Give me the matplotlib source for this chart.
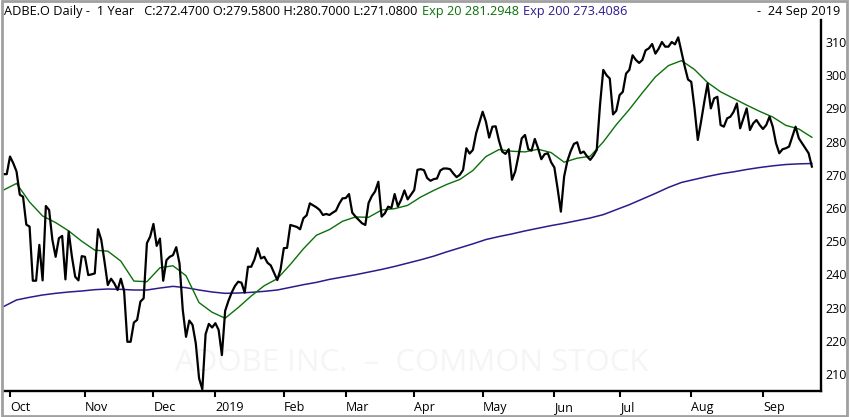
import numpy as np
import pandas as pd
import matplotlib
matplotlib.use('Agg')
import matplotlib.pyplot as plt
from matplotlib.patches import Rectangle

plt.rcParams['font.family'] = ['Open Sans', 'DejaVu Sans']

# trading days shown, 27 Sep 2018 .. 24 Sep 2019
holidays = ['2018-11-22', '2018-12-05', '2018-12-25', '2019-01-01', '2019-01-21',
            '2019-02-18', '2019-04-19', '2019-05-27', '2019-07-04', '2019-09-02']
dates = pd.bdate_range('2018-09-27', '2019-09-24', freq='C', holidays=holidays)

# daily close
close = [
    270.2, 270.2, 275.5, 273.5, 271.0, 264.0, 263.4, 255.0, 254.4, 238.1,
    238.1, 248.9, 238.2, 260.6, 259.4, 250.4, 245.3, 250.9, 251.6, 238.5,
    252.9, 245.3, 239.3, 238.2, 245.5, 245.3, 239.8, 240.0, 240.3, 253.6,
    250.4, 243.8, 236.8, 238.7, 237.3, 235.3, 238.7, 235.0, 219.7, 219.7,
    225.5, 226.3, 231.8, 232.8, 249.4, 251.4, 255.2, 248.6, 250.8, 238.1,
    244.3, 245.3, 245.8, 248.2, 243.3, 229.3, 221.2, 226.1, 224.8, 219.2,
    208.7, 205.4, 222.0, 225.1, 224.0, 225.3, 223.3, 215.7, 229.0, 232.0,
    234.5, 236.5, 237.8, 237.5, 234.5, 242.3, 242.3, 244.5, 247.9, 244.8,
    245.3, 243.5, 242.7, 240.5, 238.3, 241.5, 247.9, 248.0, 254.9, 254.6,
    254.3, 253.6, 256.9, 257.8, 261.4, 260.8, 260.2, 259.4, 257.9, 258.2,
    257.9, 258.6, 259.2, 261.3, 262.9, 263.0, 264.2, 258.6, 257.4, 256.4,
    255.4, 254.9, 261.5, 263.6, 265.0, 267.9, 257.4, 258.4, 260.4, 260.0,
    264.2, 260.5, 262.5, 265.3, 262.6, 264.0, 265.4, 271.5, 271.7, 271.4,
    269.0, 268.2, 268.7, 268.9, 271.3, 271.9, 271.9, 271.7, 270.4, 269.3,
    270.0, 271.5, 278.0, 276.4, 277.5, 282.5, 285.8, 289.0, 286.0, 281.2,
    284.5, 284.6, 280.3, 277.0, 276.3, 277.7, 268.5, 271.0, 275.8, 281.0,
    282.0, 277.7, 277.3, 280.8, 278.0, 274.7, 276.2, 276.5, 273.8, 272.2,
    265.8, 258.9, 269.5, 274.2, 277.1, 279.3, 279.8, 276.5, 277.0, 275.6,
    274.5, 275.8, 277.5, 291.0, 301.6, 300.0, 299.0, 288.2, 289.3, 294.0,
    295.0, 300.5, 301.6, 306.0, 304.6, 303.7, 304.6, 307.5, 308.1, 309.4,
    306.5, 308.0, 310.0, 308.6, 308.6, 310.0, 309.3, 311.4, 307.0, 302.6,
    298.7, 298.0, 290.0, 280.5, 286.0, 292.0, 297.5, 290.0, 293.0, 293.5,
    285.0, 284.5, 287.0, 287.5, 289.0, 291.5, 284.0, 287.0, 290.0, 283.5,
    285.5, 286.5, 285.0, 283.8, 285.0, 287.5, 284.5, 279.5, 276.5, 277.7,
    278.0, 278.5, 281.5, 284.5, 281.0, 279.5, 278.0, 276.5, 272.47,
]

# moving averages, read every 4th trading day
ema_step = 4
exp20 = [
    265.4, 267.4, 261.8, 257.6, 255.6, 253.1, 250.0, 247.3, 247.0, 244.0,
    238.0, 237.8, 242.0, 242.6, 239.6, 231.5, 228.6, 226.8, 230.0, 233.5,
    236.6, 238.7, 243.0, 247.7, 251.8, 253.5, 256.0, 257.3, 257.2, 259.4,
    259.8, 260.8, 263.3, 265.3, 267.1, 268.6, 271.3, 275.5, 277.6, 277.1,
    276.9, 277.7, 276.7, 273.8, 275.0, 275.6, 279.9, 285.1, 289.7, 294.7,
    299.5, 302.9, 304.4, 301.7, 297.8, 295.0, 293.0, 291.0, 289.1, 287.4,
    284.9, 283.8, 281.3,
]
exp200 = [
    230.3, 232.3, 233.1, 233.8, 234.3, 234.7, 235.0, 235.4, 235.6, 235.5,
    235.3, 235.3, 235.9, 236.4, 236.0, 235.3, 234.7, 234.3, 234.4, 234.6,
    234.9, 235.3, 236.1, 236.9, 237.6, 238.5, 239.2, 239.9, 240.7, 241.5,
    242.4, 243.4, 244.4, 245.5, 246.8, 248.0, 249.2, 250.5, 251.4, 252.2,
    253.1, 253.9, 254.7, 255.4, 256.2, 257.0, 258.0, 259.5, 261.0, 262.7,
    264.4, 266.2, 267.7, 268.6, 269.5, 270.3, 270.9, 271.6, 272.2, 272.7,
    273.1, 273.3, 273.4,
]

header = 'ADBE.O Daily -  1 Year   C:272.4700 O:279.5800 H:280.7000 L:271.0800'
exp20_label = 'Exp 20 281.2948'
exp200_label = 'Exp 200 273.4086'
date_label = '-  24 Sep 2019'
watermark = 'ADOBE INC.  \u2013  COMMON STOCK'

green = '#0b700b'
purple = '#2e1a8c'
hsize = 9.2

x = np.arange(len(close))
xe = np.arange(0, len(close), ema_step)

fig = plt.figure(figsize=(8.5, 4.17), dpi=100)
ax = fig.add_axes([3 / 850, 26 / 417, 818 / 850, 371 / 417])

ax.text(0.5, 0.075, watermark, transform=ax.transAxes, ha='center', va='center',
        fontsize=22.5, color='#f5f5f5', zorder=0)

ax.plot(xe, exp200, color=purple, lw=1.1, zorder=2)
ax.plot(xe, exp20, color=green, lw=1.0, zorder=3)
ax.plot(x, close, color='black', lw=1.6, zorder=4)

ax.set_xlim(-0.15, 250.8)
ax.set_ylim(204.88, 316.63)

# month ticks at first trading day of each month
months = dates.to_period('M')
first = [i for i in range(1, len(dates)) if months[i] != months[i - 1]]
labels = ['2019' if dates[i].month == 1 else dates[i].strftime('%b') for i in first]
ax.set_xticks(first)
ax.set_xticklabels(labels)
for lbl in ax.get_xticklabels():
    lbl.set_ha('left')
ax.tick_params(axis='x', direction='out', length=4, width=1.5, pad=3, labelsize=9)

ax.set_yticks(np.arange(210, 311, 10))
ax.yaxis.tick_right()
ax.tick_params(axis='y', length=0, pad=3, labelsize=9)

for s in ['top', 'left']:
    ax.spines[s].set_visible(False)
for s in ['bottom', 'right']:
    ax.spines[s].set_linewidth(1.7)

# header line
t1 = fig.text(4 / 850, 1 - 11 / 417, header, fontsize=hsize, va='center', ha='left')
t2 = ax.annotate(exp20_label, xy=(1, 0), xycoords=t1, xytext=(3, 0),
                 textcoords='offset points', fontsize=hsize, color=green, va='bottom')
ax.annotate(exp200_label, xy=(1, 0), xycoords=t2, xytext=(3, 0),
            textcoords='offset points', fontsize=hsize, color=purple, va='bottom')
fig.text(840 / 850, 1 - 11 / 417, date_label, fontsize=hsize, va='center', ha='right')

fig.patches.append(Rectangle((0.002, 0.003), 0.995, 0.994, transform=fig.transFigure,
                             fill=False, edgecolor='#a0a0a0', lw=2))

fig.savefig('out.png', dpi=100)
